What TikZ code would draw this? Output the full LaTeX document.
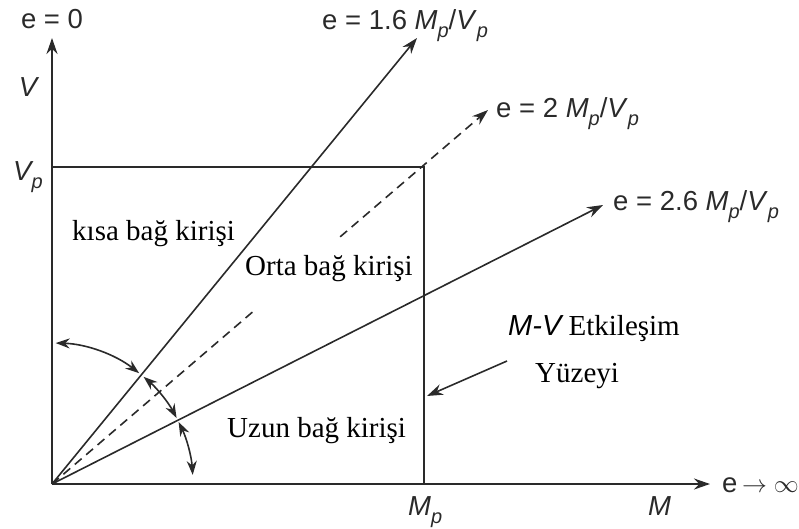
\documentclass[tikz,border=0pt]{standalone}
\usepackage{fontspec}
\setmainfont{Liberation Serif}
\newfontfamily\sansf{Liberation Sans}
\usetikzlibrary{arrows.meta}
\newcommand{\lsub}[1]{\raisebox{-0.3em}{\fontsize{20}{20}\selectfont\itshape #1}}
\definecolor{ink}{HTML}{2A2A2A}
\tikzset{
  axis/.style={draw=ink, line width=2.2pt, -{Stealth[length=16pt,width=11pt]}},
  ray/.style={draw=ink, line width=1.6pt, -{Stealth[length=16pt,width=11pt]}},
  dray/.style={draw=ink, line width=1.6pt, dash pattern=on 9pt off 6pt},
  box/.style={draw=ink, line width=2.2pt},
  angarr/.style={draw=ink, line width=1.6pt, {Stealth[length=14pt,width=10pt]}-{Stealth[length=14pt,width=10pt]}},
  slab/.style={font=\sansf\fontsize{27.5}{27.5}\selectfont, text=ink, inner sep=0pt},
  rlab/.style={font=\fontsize{29}{29}\selectfont, text=black, inner sep=0pt},
}
\begin{document}
\begin{tikzpicture}[x=1pt,y=-1pt]
\useasboundingbox (0,0) rectangle (799,528);
\coordinate (O) at (52,484);
\coordinate (Vtop) at (52,38);
\coordinate (Mend) at (710,484);
\coordinate (VpC) at (52,167);
\coordinate (C) at (424,167);
\coordinate (MpC) at (424,484);
\coordinate (T1) at (417,38);
\coordinate (T2) at (488,110);
\coordinate (T3) at (603,205);
% axes
\draw[axis] (O) -- (Vtop);
\draw[axis] (O) -- (Mend);
% box
\draw[box] (VpC) -- (C) -- (MpC);
% rays
\draw[ray] (O) -- (T1);
\draw[ray] (O) -- (T3);
\path (O) -- (T2) coordinate[pos=0.461] (g1) coordinate[pos=0.661] (g2);
\draw[dray] (O) -- (g1);
\draw[ray, dash pattern=on 9pt off 6pt] (g2) -- (T2);
% angle arcs
\draw[angarr] ([shift={(-88.5:141)}]O) arc[start angle=-88.5, end angle=-51.8, radius=141];
\draw[angarr] ([shift={(-49.5:141)}]O) arc[start angle=-49.5, end angle=-27.9, radius=141];
\draw[angarr] ([shift={(-26.1:141)}]O) arc[start angle=-26.1, end angle=-3.7, radius=141];
% axis labels
\node[slab, anchor=base] (e0) at (52,28) {e = 0};
\node[slab, anchor=base] (V) at (28,96) {\itshape V};
\node[slab, anchor=base west] (Vp) at (13,180) {\itshape V\lsub{p}};
\node[slab, anchor=base west] (Mp) at (408,515) {\itshape M\lsub{p}};
\node[slab, anchor=base west] (M) at (648,515) {\itshape M};
\node[slab, anchor=base west] (einf) at (722,492) {e\,$\rightarrow\infty$};
% ray labels
\node[slab, anchor=base west] (L1) at (322,29) {e = 1.6 \textit{M}\lsub{p}/\textit{V}\lsub{p}};
\node[slab, anchor=base west] (L2) at (496,117) {e = 2 \textit{M}\lsub{p}/\textit{V}\lsub{p}};
\node[slab, anchor=base west] (L3) at (613,210) {e = 2.6 \textit{M}\lsub{p}/\textit{V}\lsub{p}};
% region labels
\node[rlab, anchor=base west] (kisa) at (72,240) {kısa bağ kirişi};
\node[rlab, anchor=base west] (orta) at (245,275) {Orta bağ kirişi};
\node[rlab, anchor=base west] (uzun) at (227,437) {Uzun bağ kirişi};
\node[rlab, anchor=base west] (mv) at (508,335) {{\sansf\itshape M-V} Etkileşim};
\node[rlab, anchor=base west] (yuz) at (535,382) {Yüzeyi};
\coordinate (mvs) at (507,361);
\coordinate (mvt) at (427,396);
\draw[ray] (mvs) -- (mvt);
\end{tikzpicture}
\end{document}
